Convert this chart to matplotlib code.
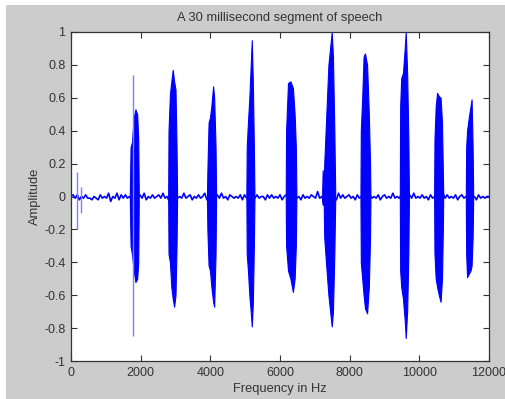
import numpy as np
import matplotlib.pyplot as plt
from matplotlib.patches import Rectangle
from matplotlib.ticker import FormatStrFormatter

plt.rcParams['font.family'] = ['Liberation Sans', 'DejaVu Sans']
plt.rcParams['axes.unicode_minus'] = False

# ruido de fundo entre os pulsos (amostras a cada 60 Hz, 0..12000)
ruido = [
    0.00, 0.01, -0.01, 0.01, -0.02, 0.00, -0.01, 0.01, -0.01, -0.01,
    -0.02, 0.00, -0.01, -0.02, 0.01, -0.01, 0.00, -0.01, 0.02, -0.03,
    0.00, -0.01, 0.02, -0.02, 0.01, -0.01, 0.01, -0.01, 0.00, -0.02,
    0.01, 0.00, -0.01, 0.01, -0.01, 0.02, -0.02, 0.00, -0.01, 0.01,
    -0.01, 0.00, 0.01, -0.01, 0.02, -0.01, 0.00, -0.03, 0.01, -0.01,
    0.01, -0.01, 0.00, -0.01, 0.02, -0.01, 0.00, 0.01, -0.02, 0.00,
    -0.01, 0.01, -0.01, 0.00, 0.02, -0.02, 0.01, -0.01, 0.00, -0.01,
    0.01, -0.01, 0.02, -0.01, 0.00, -0.02, 0.01, 0.00, -0.01, 0.00,
    -0.01, 0.01, -0.02, 0.01, -0.01, 0.00, -0.01, 0.02, -0.01, 0.01,
    -0.01, 0.00, 0.00, -0.02, 0.01, -0.01, 0.01, -0.01, 0.00, -0.01,
    0.01, -0.02, 0.00, 0.01, -0.01, 0.00, -0.01, 0.02, -0.01, 0.00,
    -0.02, 0.01, -0.01, 0.00, -0.01, 0.01, 0.00, -0.01, 0.03, -0.01,
    0.00, -0.03, 0.01, -0.01, 0.01, -0.01, 0.00, -0.02, 0.02, -0.01,
    0.01, -0.01, 0.00, 0.01, -0.01, 0.00, -0.02, 0.01, -0.01, 0.00,
    -0.01, 0.02, -0.01, 0.01, -0.01, 0.00, -0.01, 0.01, -0.02, 0.00,
    0.01, -0.01, 0.00, -0.01, 0.02, -0.01, 0.00, -0.01, 0.01, -0.02,
    0.00, -0.01, 0.01, -0.01, 0.02, -0.01, 0.00, -0.01, 0.01, -0.01,
    0.00, -0.02, 0.01, -0.01, 0.00, 0.01, -0.01, -0.01, 0.02, -0.01,
    0.01, -0.01, 0.00, -0.01, 0.01, -0.02, 0.00, 0.01, -0.01, 0.00,
    -0.01, 0.01, -0.01, 0.00, -0.02, 0.01, -0.01, 0.00, -0.01, 0.00,
    0.00,
]

# envoltorias dos pulsos (x em Hz, topo e base)
pulsos_x = [
    [1690, 1710, 1750, 1800, 1850, 1900, 1930, 1945],
    [2790, 2800, 2840, 2880, 2920, 2960, 3000, 3030, 3045],
    [3905, 3915, 3950, 3990, 4030, 4080, 4110, 4150, 4165],
    [5035, 5045, 5080, 5120, 5160, 5190, 5220, 5250, 5265],
    [6165, 6175, 6230, 6300, 6370, 6420, 6455, 6470],
    [7210, 7225, 7255, 7270, 7320, 7390, 7485, 7520, 7560, 7585],
    [8310, 8320, 8360, 8400, 8440, 8500, 8550, 8585, 8595],
    [9440, 9450, 9480, 9530, 9580, 9610, 9650, 9685, 9700],
    [10425, 10435, 10470, 10510, 10560, 10610, 10650, 10675, 10685],
    [11335, 11345, 11370, 11420, 11470, 11500, 11530, 11545],
]
pulsos_topo = [
    [0.03, 0.30, 0.33, 0.48, 0.53, 0.50, 0.35, 0.03],
    [0.03, 0.40, 0.62, 0.70, 0.77, 0.70, 0.65, 0.30, 0.03],
    [0.03, 0.15, 0.45, 0.48, 0.55, 0.67, 0.60, 0.30, 0.03],
    [0.03, 0.30, 0.45, 0.60, 0.80, 0.95, 0.70, 0.30, 0.03],
    [0.03, 0.40, 0.69, 0.70, 0.66, 0.50, 0.30, 0.03],
    [0.03, 0.16, 0.05, 0.20, 0.45, 0.80, 1.00, 0.85, 0.40, 0.03],
    [0.03, 0.40, 0.60, 0.85, 0.87, 0.80, 0.50, 0.20, 0.03],
    [0.03, 0.55, 0.72, 0.75, 0.90, 1.00, 0.75, 0.35, 0.03],
    [0.03, 0.35, 0.55, 0.63, 0.61, 0.60, 0.45, 0.15, 0.03],
    [0.03, 0.30, 0.40, 0.48, 0.55, 0.59, 0.30, 0.03],
]
pulsos_base = [
    [-0.03, -0.30, -0.35, -0.45, -0.52, -0.50, -0.40, -0.03],
    [-0.03, -0.35, -0.40, -0.55, -0.62, -0.67, -0.60, -0.30, -0.03],
    [-0.03, -0.20, -0.42, -0.45, -0.55, -0.64, -0.67, -0.35, -0.03],
    [-0.03, -0.35, -0.45, -0.60, -0.70, -0.79, -0.65, -0.30, -0.03],
    [-0.03, -0.30, -0.45, -0.50, -0.58, -0.50, -0.30, -0.03],
    [-0.03, -0.05, -0.05, -0.25, -0.40, -0.60, -0.79, -0.70, -0.35, -0.03],
    [-0.03, -0.40, -0.50, -0.60, -0.68, -0.71, -0.55, -0.25, -0.03],
    [-0.03, -0.45, -0.55, -0.62, -0.75, -0.86, -0.70, -0.35, -0.03],
    [-0.03, -0.35, -0.50, -0.55, -0.60, -0.64, -0.50, -0.20, -0.03],
    [-0.03, -0.35, -0.49, -0.47, -0.45, -0.42, -0.25, -0.03],
]

# picos finos isolados
picos_x = [163, 278, 1789]
picos_topo = [0.15, 0.06, 0.74]
picos_base = [-0.20, -0.10, -0.85]

y_ticks = [-1, -0.8, -0.6, -0.4, -0.2, 0, 0.2, 0.4, 0.6, 0.8, 1]
x_ticks = [0, 2000, 4000, 6000, 8000, 10000, 12000]

fig = plt.figure(figsize=(5.05, 3.99), dpi=100, facecolor='white')
fig.patches.append(Rectangle((6 / 505, 0), 1, 1 - 5 / 399, transform=fig.transFigure,
                             facecolor='#cccccc', edgecolor='none', zorder=-1))
ax = fig.add_axes([71 / 505, 38 / 399, 418 / 505, 329 / 399])

azul = '#0000ff'
xr = np.linspace(0, 12000, len(ruido))
ax.plot(xr, ruido, color=azul, linewidth=1.2)
for bx, bt, bb in zip(pulsos_x, pulsos_topo, pulsos_base):
    ax.fill_between(bx, bb, bt, color=azul, linewidth=0.8, edgecolor=azul)
ax.vlines(picos_x, picos_base, picos_topo, color='#7f7fff', linewidth=1.0)

ax.set_xlim(0, 12000)
ax.set_ylim(-1, 1)
ax.set_xticks(x_ticks)
ax.set_yticks(y_ticks)
ax.yaxis.set_major_formatter(FormatStrFormatter('%g'))
ax.tick_params(direction='in', length=4, top=True, right=True,
               labelsize=9, colors='#333333', pad=4, width=0.8)
for s in ax.spines.values():
    s.set_color('#333333')
    s.set_linewidth(0.9)

ax.set_title('A 30 millisecond segment of speech', fontsize=9.3, pad=8, color='#333333')
ax.set_xlabel('Frequency in Hz', fontsize=9.3, labelpad=3, color='#333333')
ax.set_ylabel('Amplitude', fontsize=9.3, labelpad=2, color='#333333')

fig.savefig('out.png', dpi=100, facecolor=fig.get_facecolor())
